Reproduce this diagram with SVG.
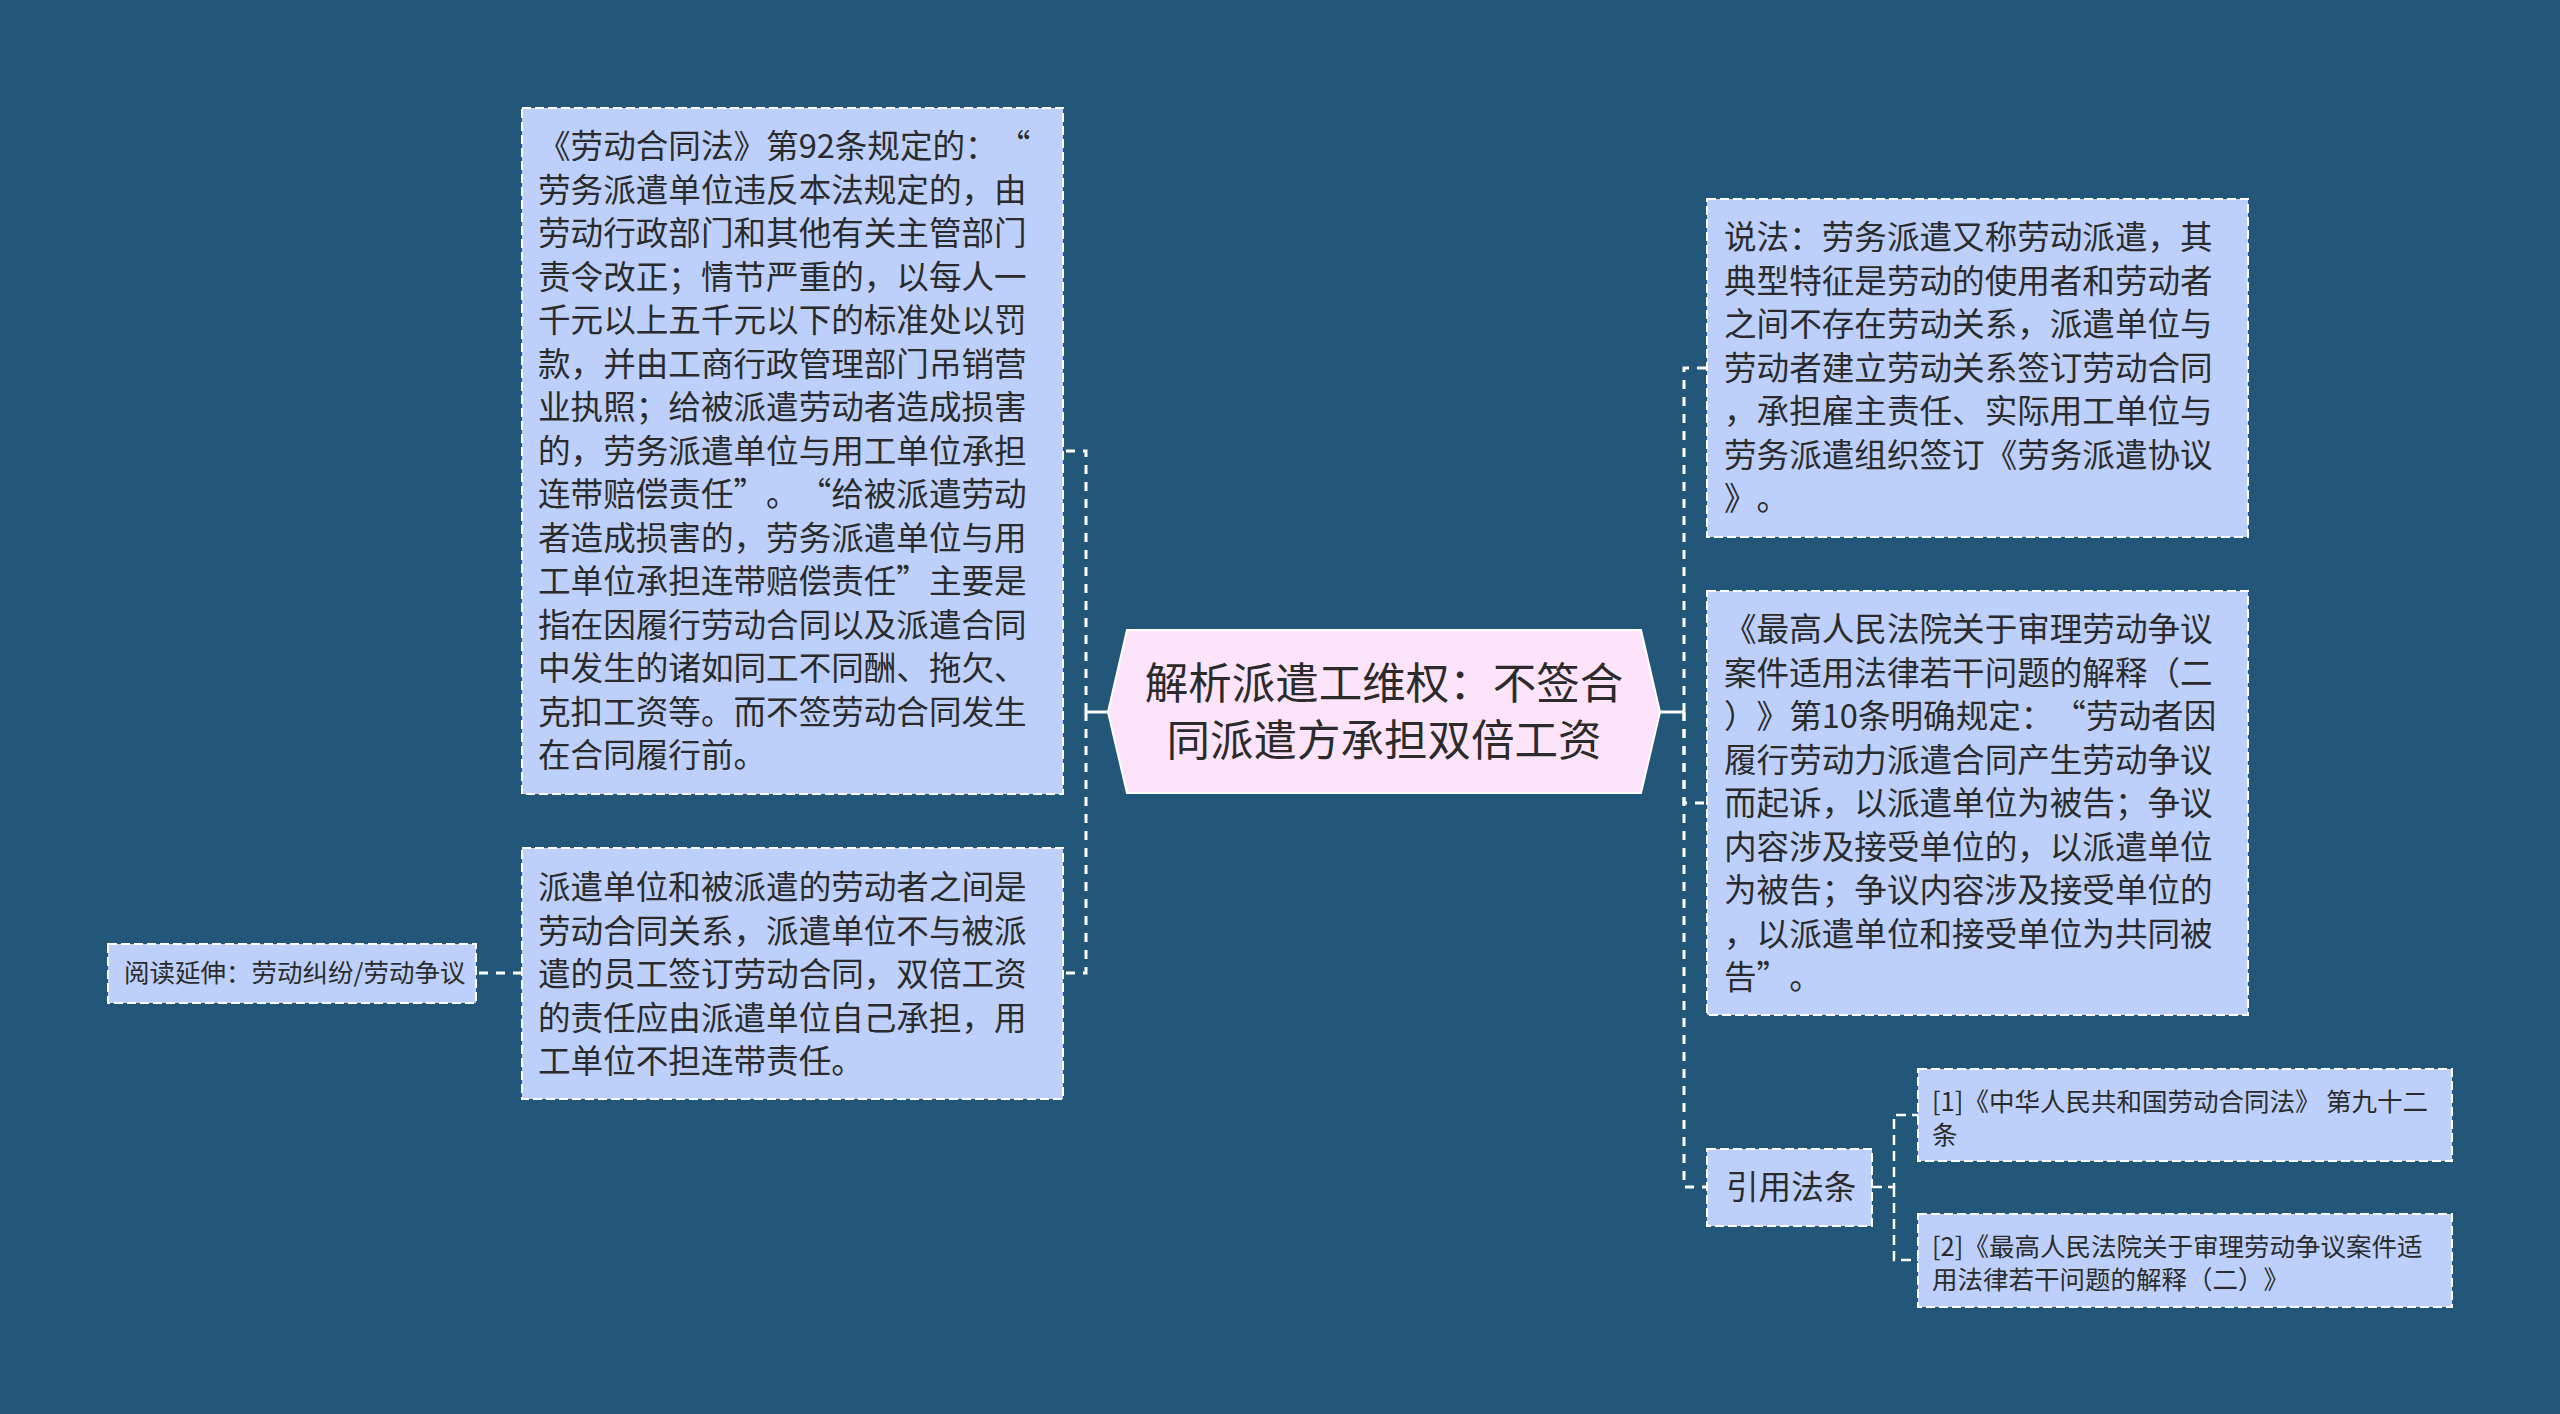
<svg xmlns="http://www.w3.org/2000/svg" width="2560" height="1414" viewBox="0 0 2560 1414" xml:lang="zh-CN">
<style>
.bg{fill:#235779}
.box{fill:#bdd0fb;stroke:#ffffff;stroke-width:2;stroke-dasharray:9 4}
.center{fill:#fde4fa;stroke:#ffffff;stroke-width:2}
.t{font-family:"Noto Sans CJK SC","Noto Sans",sans-serif;fill:#2b2b2b;text-spacing-trim:space-all}
.t32{font-size:32.6px}
.t25{font-size:25.5px}
.t42{font-size:43.5px}
.conn{fill:none;stroke:#ffffff;stroke-width:3;stroke-dasharray:9 8}
.conn2{fill:none;stroke:#ffffff;stroke-width:2.5;stroke-dasharray:10 6}
.solid{fill:none;stroke:#ffffff;stroke-width:3}
</style>
<rect class="bg" x="0" y="0" width="2560" height="1414"/>
<g id="connectors">
<path class="conn" d="M1086,712 L1086,451 L1063,451"/>
<path class="conn" d="M1086,712 L1086,973 L1063,973"/>
<path class="solid" d="M1108,712 L1086,712"/>
<path class="conn" d="M522,973 L476,973"/>
<path class="conn" d="M1684,712 L1684,368 L1707,368"/>
<path class="conn" d="M1684,712 L1684,803 L1707,803"/>
<path class="conn" d="M1684,712 L1684,1187 L1707,1187"/>
<path class="solid" d="M1660,712 L1684,712"/>
<path class="conn2" d="M1872,1187 L1894,1187 L1894,1115 L1918,1115"/>
<path class="conn2" d="M1894,1187 L1894,1260 L1918,1260"/>
</g>
<g id="center">
<polygon class="center" points="1108,712 1127,630 1641,630 1660,712 1641,793 1127,793"/>
<text class="t t42" text-anchor="middle"><tspan x="1384" y="699">解析派遣工维权：不签合</tspan><tspan x="1384" y="756">同派遣方承担双倍工资</tspan></text>
</g>
<g id="node-law92">
<rect class="box" x="522" y="108" width="541" height="686"/>
<text class="t t32"><tspan x="538" y="158">《劳动合同法》第92条规定的：“</tspan><tspan x="538" y="201.5">劳务派遣单位违反本法规定的，由</tspan><tspan x="538" y="245">劳动行政部门和其他有关主管部门</tspan><tspan x="538" y="288.5">责令改正；情节严重的，以每人一</tspan><tspan x="538" y="332">千元以上五千元以下的标准处以罚</tspan><tspan x="538" y="375.5">款，并由工商行政管理部门吊销营</tspan><tspan x="538" y="419">业执照；给被派遣劳动者造成损害</tspan><tspan x="538" y="462.5">的，劳务派遣单位与用工单位承担</tspan><tspan x="538" y="506">连带赔偿责任”。“给被派遣劳动</tspan><tspan x="538" y="549.5">者造成损害的，劳务派遣单位与用</tspan><tspan x="538" y="593">工单位承担连带赔偿责任”主要是</tspan><tspan x="538" y="636.5">指在因履行劳动合同以及派遣合同</tspan><tspan x="538" y="680">中发生的诸如同工不同酬、拖欠、</tspan><tspan x="538" y="723.5">克扣工资等。而不签劳动合同发生</tspan><tspan x="538" y="767">在合同履行前。</tspan></text>
</g>
<g id="node-relation">
<rect class="box" x="522" y="848" width="541" height="251"/>
<text class="t t32"><tspan x="538" y="899">派遣单位和被派遣的劳动者之间是</tspan><tspan x="538" y="942.5">劳动合同关系，派遣单位不与被派</tspan><tspan x="538" y="986">遣的员工签订劳动合同，双倍工资</tspan><tspan x="538" y="1029.5">的责任应由派遣单位自己承担，用</tspan><tspan x="538" y="1073">工单位不担连带责任。</tspan></text>
</g>
<g id="node-read">
<rect class="box" x="108" y="944" width="368" height="59"/>
<text class="t t25" x="124" y="982">阅读延伸：劳动纠纷/劳动争议</text>
</g>
<g id="node-shuofa">
<rect class="box" x="1707" y="199" width="541" height="338"/>
<text class="t t32"><tspan x="1724" y="249">说法：劳务派遣又称劳动派遣，其</tspan><tspan x="1724" y="292.5">典型特征是劳动的使用者和劳动者</tspan><tspan x="1724" y="336">之间不存在劳动关系，派遣单位与</tspan><tspan x="1724" y="379.5">劳动者建立劳动关系签订劳动合同</tspan><tspan x="1724" y="423">，承担雇主责任、实际用工单位与</tspan><tspan x="1724" y="466.5">劳务派遣组织签订《劳务派遣协议</tspan><tspan x="1724" y="510">》。</tspan></text>
</g>
<g id="node-interp">
<rect class="box" x="1707" y="591" width="541" height="424"/>
<text class="t t32"><tspan x="1724" y="641">《最高人民法院关于审理劳动争议</tspan><tspan x="1724" y="684.5">案件适用法律若干问题的解释（二</tspan><tspan x="1724" y="728">）》第10条明确规定：“劳动者因</tspan><tspan x="1724" y="771.5">履行劳动力派遣合同产生劳动争议</tspan><tspan x="1724" y="815">而起诉，以派遣单位为被告；争议</tspan><tspan x="1724" y="858.5">内容涉及接受单位的，以派遣单位</tspan><tspan x="1724" y="902">为被告；争议内容涉及接受单位的</tspan><tspan x="1724" y="945.5">，以派遣单位和接受单位为共同被</tspan><tspan x="1724" y="989">告”。</tspan></text>
</g>
<g id="node-cite">
<rect class="box" x="1707" y="1149" width="165" height="77"/>
<text class="t t32" x="1726" y="1199">引用法条</text>
</g>
<g id="node-ref1">
<rect class="box" x="1918" y="1069" width="534" height="92"/>
<text class="t t25"><tspan x="1932" y="1111">[1]《中华人民共和国劳动合同法》 第九十二</tspan><tspan x="1932" y="1144">条</tspan></text>
</g>
<g id="node-ref2">
<rect class="box" x="1918" y="1214" width="534" height="93"/>
<text class="t t25"><tspan x="1932" y="1256">[2]《最高人民法院关于审理劳动争议案件适</tspan><tspan x="1932" y="1289">用法律若干问题的解释（二）》</tspan></text>
</g>
</svg>
